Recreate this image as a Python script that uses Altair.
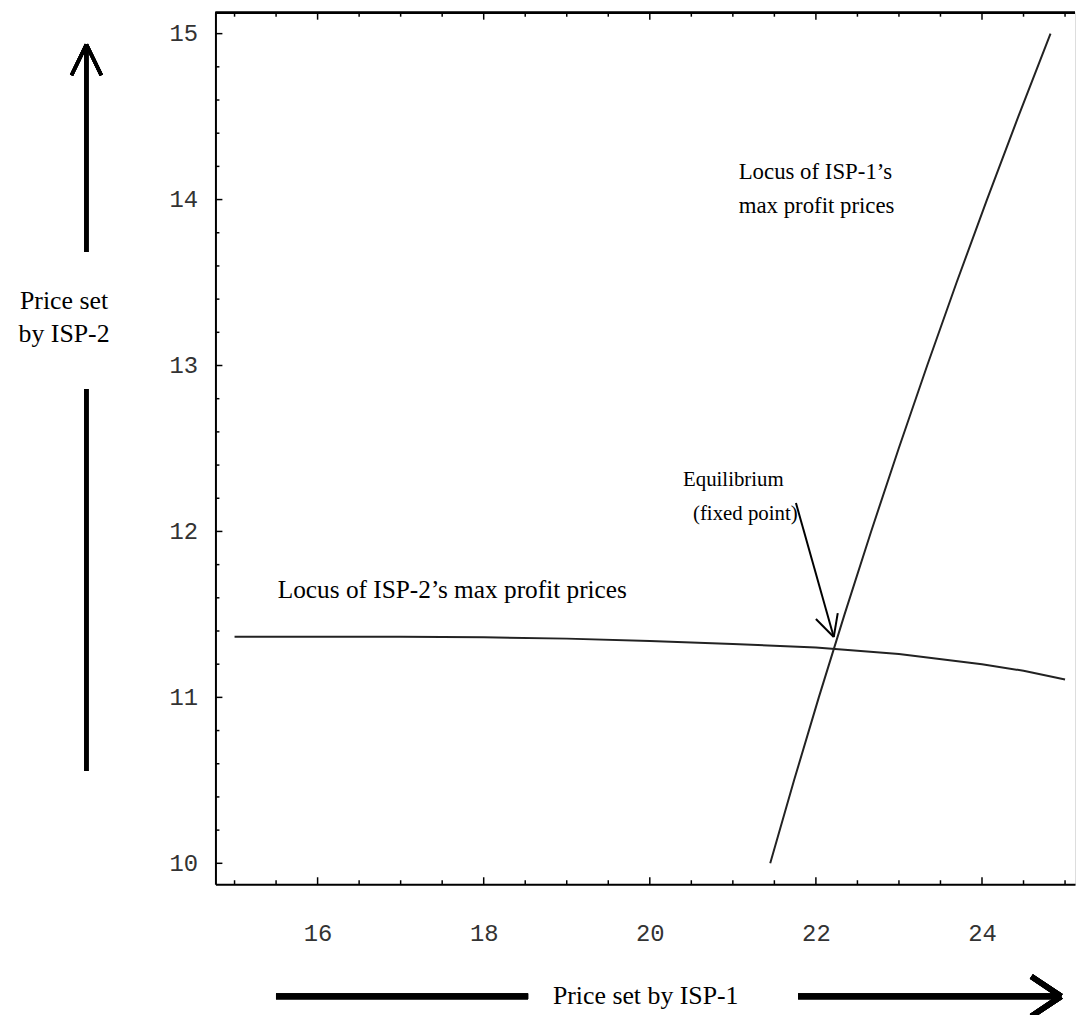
import altair as alt
import pandas as pd

# ---- data ----
# Locus of ISP-2's max profit prices (x = price ISP-1, y = price ISP-2)
isp2_x = [15, 16, 17, 18, 19, 20, 21, 22, 23, 24, 24.5, 25]
isp2_y = [11.366, 11.366, 11.365, 11.362, 11.354, 11.340, 11.322, 11.300, 11.262, 11.200, 11.160, 11.108]

# Locus of ISP-1's max profit prices
isp1_y = [10, 10.5, 11, 11.5, 12, 12.5, 13, 13.5, 14, 14.5, 15]
isp1_x = [21.45, 21.737, 22.035, 22.345, 22.665, 22.997, 23.34, 23.694, 24.06, 24.437, 24.825]

x_labels = [16, 18, 20, 22, 24]
x_minor = [15, 15.5, 16.5, 17, 17.5, 18.5, 19, 19.5, 20.5, 21, 21.5, 22.5, 23, 23.5, 24.5, 25]
y_labels = [10, 11, 12, 13, 14, 15]
y_minor = [round(10 + 0.2 * i, 1) for i in range(26) if i % 5 != 0]

notes = ["Locus of ISP-1\u2019s", "max profit prices", "Equilibrium", "(fixed point)",
         "Locus of ISP-2\u2019s max profit prices"]
notes_x = [21.07, 21.07, 20.4, 20.52, 15.52]
notes_y = [14.163, 13.96, 12.31, 12.105, 11.647]
notes_size = [23, 23, 21, 21, 25.5]

# equilibrium pointer (start, tip) and arrow head arms
ptr_x = [21.76, 22.215]
ptr_y = [12.171, 11.364]
head_x = [22.0, 22.263]
head_y = [11.472, 11.508]

XD = [14.77, 25.12]
YD = [9.874, 15.126]
W, H = 866, 878

xs = alt.Scale(domain=XD, nice=False, zero=False)
ys = alt.Scale(domain=YD, nice=False, zero=False)

df2 = pd.DataFrame({"x": isp2_x, "y": isp2_y})
df1 = pd.DataFrame({"x": isp1_x, "y": isp1_y, "o": list(range(len(isp1_x)))})

x_axis = alt.Axis(values=x_labels, format="d", tickSize=0, domain=True, domainColor="black",
                  domainWidth=2, labelFont="Liberation Mono", labelFontSize=24, labelColor="#333",
                  labelPadding=38, grid=False, title="Price set by ISP-1",
                  titleFont="Liberation Serif", titleFontSize=26, titleFontWeight="normal",
                  titleColor="black", titlePadding=37)
y_axis = alt.Axis(values=y_labels, format="d", tickSize=0, domain=True, domainColor="black",
                  domainWidth=2, labelFont="Liberation Mono", labelFontSize=24, labelColor="#333",
                  labelPadding=18, grid=False, title=["Price set", "by ISP-2"],
                  titleFont="Liberation Serif", titleFontSize=26, titleFontWeight="normal",
                  titleColor="black", titleAngle=0, titleAlign="center", titleBaseline="middle",
                  titleX=-153, titleY=290, titleLineHeight=33)

base = alt.Chart(df2).mark_line(color="#222", strokeWidth=2).encode(
    x=alt.X("x:Q", scale=xs, axis=x_axis),
    y=alt.Y("y:Q", scale=ys, axis=y_axis),
)

isp1 = alt.Chart(df1).mark_line(color="#222", strokeWidth=2).encode(
    x=alt.X("x:Q", scale=xs), y=alt.Y("y:Q", scale=ys), order="o:Q")

# ticks (inside frame)
xmaj = pd.DataFrame({"v": x_labels})
xmin = pd.DataFrame({"v": x_minor})
ymaj = pd.DataFrame({"v": y_labels})
ymin = pd.DataFrame({"v": y_minor})

def xticks(d, top, ln):
    if top:
        return alt.Chart(d).mark_rule(color="black", strokeWidth=1.5).encode(
            x=alt.X("v:Q", scale=xs), y=alt.value(0), y2=alt.value(ln))
    return alt.Chart(d).mark_rule(color="black", strokeWidth=1.5).encode(
        x=alt.X("v:Q", scale=xs), y=alt.value(H), y2=alt.value(H - ln))

def yticks(d, ln):
    return alt.Chart(d).mark_rule(color="black", strokeWidth=1.5).encode(
        y=alt.Y("v:Q", scale=ys), x=alt.value(0), x2=alt.value(ln))

frame_top = alt.Chart(xmaj).mark_rule(color="black", strokeWidth=2).encode(
    x=alt.value(0), x2=alt.value(W), y=alt.value(0))

ndf = pd.DataFrame({"t": notes, "x": notes_x, "y": notes_y, "s": notes_size})
texts = alt.Chart(ndf).mark_text(font="Liberation Serif", align="left",
                                 baseline="middle", color="black").encode(
    x=alt.X("x:Q", scale=xs), y=alt.Y("y:Q", scale=ys), text="t:N",
    size=alt.Size("s:Q", scale=None, legend=None))

pdf = pd.DataFrame({"x": ptr_x[:1], "y": ptr_y[:1], "x2": ptr_x[1:], "y2": ptr_y[1:]})
pointer = alt.Chart(pdf).mark_rule(color="black", strokeWidth=2).encode(
    x=alt.X("x:Q", scale=xs), y=alt.Y("y:Q", scale=ys), x2="x2:Q", y2="y2:Q")
hdf = pd.DataFrame({"x": [ptr_x[1]] * 2, "y": [ptr_y[1]] * 2, "x2": head_x, "y2": head_y})
head = alt.Chart(hdf).mark_rule(color="black", strokeWidth=2).encode(
    x=alt.X("x:Q", scale=xs), y=alt.Y("y:Q", scale=ys), x2="x2:Q", y2="y2:Q")

# decorative axis arrows outside the frame
def seg(x1, y1, x2, y2, w):
    return alt.Chart(xmaj).mark_rule(color="black", strokeWidth=w, strokeCap="butt").encode(
        x=alt.value(x1), y=alt.value(y1), x2=alt.value(x2), y2=alt.value(y2))

arrows = [
    seg(-130, 33, -130, 241, 4), seg(-130, 379, -130, 764, 4),
    seg(-145, 63, -130, 32, 3.5), seg(-115, 63, -130, 32, 3.5),
    seg(61, 991, 315, 991, 6), seg(587, 991, 850, 991, 6),
    seg(822, 971, 852, 991, 5.5), seg(822, 1011, 852, 991, 5.5),
]

chart = alt.layer(
    base, isp1, frame_top,
    xticks(xmaj, False, 7), xticks(xmin, False, 4), xticks(xmaj, True, 7), xticks(xmin, True, 4),
    yticks(ymaj, 7), yticks(ymin, 4),
    texts, pointer, head, *arrows,
).properties(
    width=W, height=H,
    autosize=alt.AutoSizeParams(type="none"),
    padding={"left": 209, "top": 1, "right": 2, "bottom": 128},
).configure_view(stroke=None).configure(background="white")

chart.save("out.html", embed_options={"renderer": "svg", "actions": False})
